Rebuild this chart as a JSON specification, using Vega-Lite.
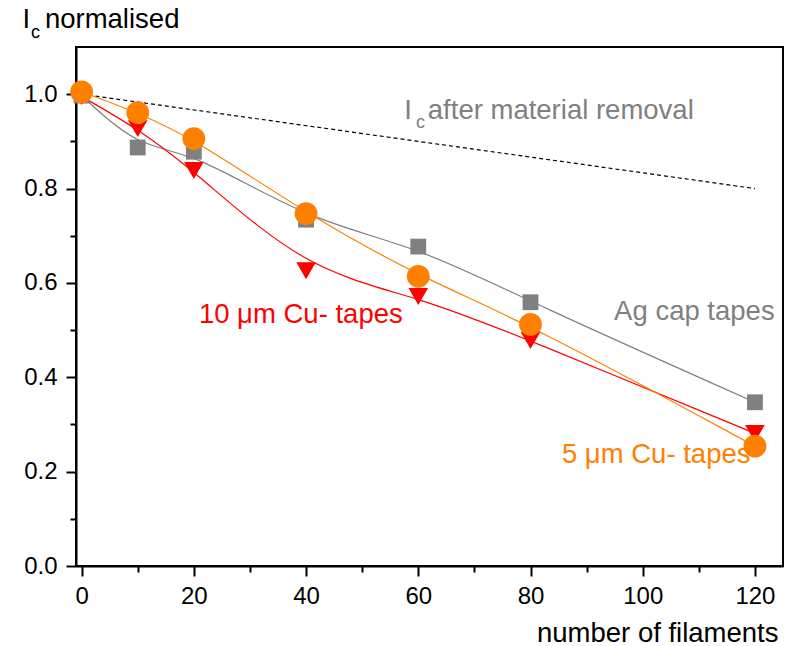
{
  "$schema": "https://vega.github.io/schema/vega-lite/v6.json",
  "width": 707,
  "height": 519,
  "autosize": {"type": "none"},
  "padding": {"left": 76, "top": 47, "right": 15, "bottom": 80},
  "background": "white",
  "config": {
    "view": {"stroke": "black", "strokeWidth": 2},
    "axis": {
      "grid": false,
      "labelFont": "Liberation Sans",
      "titleFont": "Liberation Sans",
      "labelColor": "black",
      "titleColor": "black",
      "tickColor": "black",
      "domainColor": "black",
      "titleFontWeight": "normal"
    },
    "text": {"font": "Liberation Sans"}
  },
  "datasets": {
    "series": [
      {"series": "Ag", "x": 0, "y": 0.997},
      {"series": "Ag", "x": 10, "y": 0.887},
      {"series": "Ag", "x": 20, "y": 0.878},
      {"series": "Ag", "x": 40, "y": 0.734},
      {"series": "Ag", "x": 60, "y": 0.677},
      {"series": "Ag", "x": 80, "y": 0.559},
      {"series": "Ag", "x": 120, "y": 0.347},
      {"series": "Cu10", "x": 0, "y": 0.995},
      {"series": "Cu10", "x": 10, "y": 0.927},
      {"series": "Cu10", "x": 20, "y": 0.838},
      {"series": "Cu10", "x": 40, "y": 0.626},
      {"series": "Cu10", "x": 60, "y": 0.571},
      {"series": "Cu10", "x": 80, "y": 0.478},
      {"series": "Cu10", "x": 120, "y": 0.281},
      {"series": "Cu5", "x": 0, "y": 1.005},
      {"series": "Cu5", "x": 10, "y": 0.961},
      {"series": "Cu5", "x": 20, "y": 0.906},
      {"series": "Cu5", "x": 40, "y": 0.747},
      {"series": "Cu5", "x": 60, "y": 0.614},
      {"series": "Cu5", "x": 80, "y": 0.512},
      {"series": "Cu5", "x": 120, "y": 0.254}
    ],
    "removal": [
      {"x": 0, "y": 1.0},
      {"x": 120, "y": 0.8}
    ],
    "labels": [
      {"series": "title", "x": -10.55, "y": 1.141, "text": "I"},
      {"series": "title", "x": -6.54, "y": 1.141, "text": "normalised"},
      {"series": "note", "x": 57.5, "y": 0.948, "text": "I"},
      {"series": "note", "x": 61.7, "y": 0.948, "text": "after material removal"},
      {"series": "Ag", "x": 94.9, "y": 0.521, "text": "Ag cap tapes"},
      {"series": "Cu10", "x": 20.9, "y": 0.516, "text": "10 μm Cu- tapes"},
      {"series": "Cu5", "x": 85.6, "y": 0.218, "text": "5 μm Cu- tapes"}
    ],
    "subs": [
      {"series": "title", "x": -9.04, "y": 1.12, "text": "c"},
      {"series": "note", "x": 59.6, "y": 0.929, "text": "c"}
    ]
  },
  "resolve": {"axis": {"x": "independent", "y": "independent"}},
  "layer": [
    {
      "data": {"name": "removal"},
      "mark": {"type": "line", "color": "black", "strokeWidth": 1.2, "strokeDash": [4, 3]},
      "encoding": {
        "x": {
          "field": "x", "type": "quantitative",
          "scale": {"domain": [-1, 125], "nice": false, "zero": false},
          "axis": {
            "orient": "bottom",
            "values": [0, 20, 40, 60, 80, 100, 120],
            "tickSize": 10, "tickWidth": 2, "domainWidth": 2,
            "labelFontSize": 24, "labelPadding": 8, "labelFlush": false,
            "title": "number of filaments", "titleFontSize": 27.5,
            "titleAnchor": "end", "titleAlign": "right", "titleBaseline": "alphabetic",
            "titleX": 702, "titleY": 75
          }
        },
        "y": {
          "field": "y", "type": "quantitative",
          "scale": {"domain": [0, 1.1], "nice": false, "zero": false},
          "axis": {
            "orient": "left",
            "values": [0, 0.2, 0.4, 0.6, 0.8, 1.0],
            "format": ".1f",
            "tickSize": 10, "tickWidth": 2, "domainWidth": 2,
            "labelFontSize": 24, "labelPadding": 9, "labelFlush": false,
            "title": null
          }
        }
      }
    },
    {
      "data": {"name": "series"},
      "mark": {"type": "line", "interpolate": "basis", "strokeWidth": 1.2},
      "encoding": {
        "x": {
          "field": "x", "type": "quantitative",
          "axis": {
            "orient": "bottom",
            "values": [10, 30, 50, 70, 90, 110],
            "tickSize": 6, "tickWidth": 2, "domain": false,
            "labels": false, "title": null
          }
        },
        "y": {
          "field": "y", "type": "quantitative",
          "axis": {
            "orient": "left",
            "values": [0.1, 0.3, 0.5, 0.7, 0.9],
            "tickSize": 6, "tickWidth": 2, "domain": false,
            "labels": false, "title": null
          }
        },
        "color": {
          "field": "series", "type": "nominal",
          "scale": {
            "domain": ["Ag", "Cu10", "Cu5", "note", "title"],
            "range": ["#808080", "#FF0000", "#FF8000", "#808080", "#000000"]
          },
          "legend": null
        }
      }
    },
    {
      "data": {"name": "series"},
      "mark": {"type": "point", "filled": true, "opacity": 1, "strokeWidth": 0},
      "encoding": {
        "x": {"field": "x", "type": "quantitative", "axis": null},
        "y": {"field": "y", "type": "quantitative", "axis": null},
        "color": {"field": "series", "type": "nominal", "legend": null},
        "shape": {
          "field": "series", "type": "nominal",
          "scale": {"domain": ["Ag", "Cu10", "Cu5"], "range": ["square", "triangle-down", "circle"]},
          "legend": null
        },
        "size": {
          "field": "series", "type": "ordinal",
          "scale": {"domain": ["Ag", "Cu10", "Cu5"], "range": [250, 520, 330]},
          "legend": null
        }
      }
    },
    {
      "data": {"name": "labels"},
      "mark": {"type": "text", "align": "left", "baseline": "alphabetic", "fontSize": 27.5, "clip": false},
      "encoding": {
        "x": {"field": "x", "type": "quantitative", "axis": null},
        "y": {"field": "y", "type": "quantitative", "axis": null},
        "text": {"field": "text"},
        "color": {"field": "series", "type": "nominal", "legend": null}
      }
    },
    {
      "data": {"name": "subs"},
      "mark": {"type": "text", "align": "left", "baseline": "alphabetic", "fontSize": 18, "clip": false},
      "encoding": {
        "x": {"field": "x", "type": "quantitative", "axis": null},
        "y": {"field": "y", "type": "quantitative", "axis": null},
        "text": {"field": "text"},
        "color": {"field": "series", "type": "nominal", "legend": null}
      }
    }
  ]
}
